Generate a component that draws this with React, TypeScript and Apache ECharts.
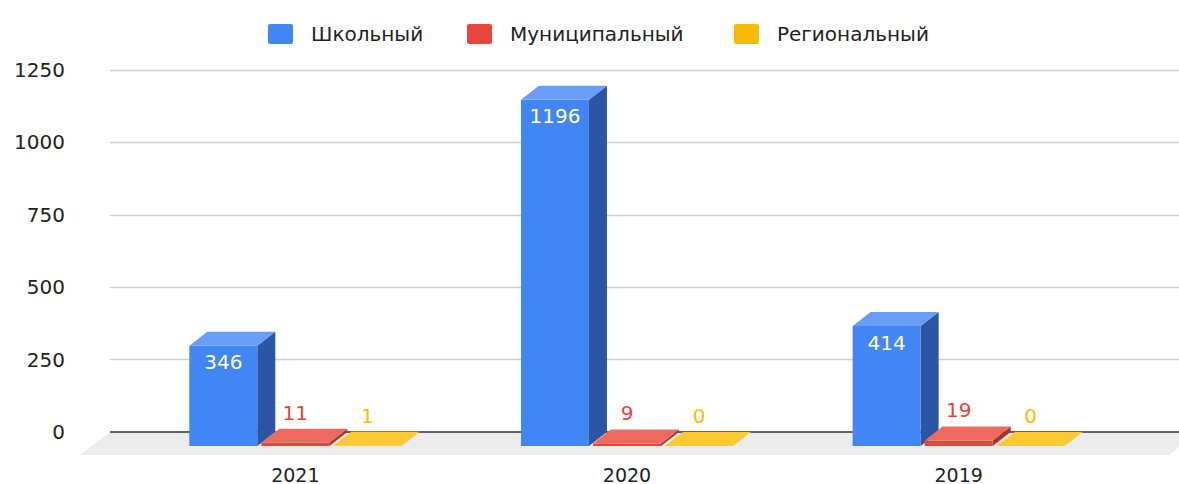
import React, { useEffect, useRef } from "react";
import * as echarts from "echarts";

const categories = ["2021", "2020", "2019"];
const seriesNames = ["Школьный", "Муниципальный", "Региональный"];
const school = [346, 1196, 414];
const municipal = [11, 9, 19];
const regional = [1, 0, 0];
const yMax = 1250;
const yStep = 250;

const palettes = [
  { front: "#4285F4", top: "#6A9EF6", side: "#2B56A3", label: "#FFFFFF" },
  { front: "#E8453C", top: "#EE6A5F", side: "#A8342A", label: "#EA4335" },
  { front: "#F7BB05", top: "#FBC933", side: "#C09000", label: "#FBBC04" },
];
const legendLefts = [263, 462, 729];

const FONT = "DejaVu Sans";
const LEGEND_ICON = "path://M2,0H23Q25,0 25,2V18Q25,20 23,20H2Q0,20 0,18V2Q0,0 2,0Z";

function makeBarRender(s: number) {
  return (params: any, api: any) => {
    const i = api.value(0);
    const v = api.value(1);
    const base = api.coord([i, 0]);
    const topP = api.coord([i, v]);
    const band = api.size([1, 0])[0];
    const w = band * 0.205;
    const pitch = band * 0.2172;
    const dx = 18;
    const dy = 14;
    const cx = base[0] + (s - 1) * pitch;
    const xl = cx - w / 2;
    const xr = cx + w / 2;
    const yb = base[1] + dy;
    const yt = topP[1] + dy;
    const p = palettes[s];
    const inside = yb - yt > 40;
    return {
      type: "group",
      children: [
        {
          type: "polygon",
          shape: { points: [[xr, yb], [xr + dx, yb - dy], [xr + dx, yt - dy], [xr, yt]] },
          style: { fill: p.side },
        },
        {
          type: "polygon",
          shape: { points: [[xl, yb], [xr, yb], [xr, yt], [xl, yt]] },
          style: { fill: p.front },
        },
        {
          type: "polygon",
          shape: { points: [[xl, yt], [xr, yt], [xr + dx, yt - dy], [xl + dx, yt - dy]] },
          style: { fill: p.top },
        },
        {
          type: "text",
          x: cx,
          y: inside ? yt + 16.5 : yt - dy - 16,
          style: {
            text: String(v),
            fill: p.label,
            fontSize: 20,
            fontFamily: FONT,
            align: "center",
            verticalAlign: "middle",
          },
        },
      ],
    };
  };
}

function floorRender(params: any, api: any) {
  const cs = params.coordSys;
  const x0 = cs.x;
  const y0 = cs.y + cs.height;
  const x1 = cs.x + cs.width + 20;
  const fdx = 30;
  const fdy = 23;
  return {
    type: "group",
    children: [
      {
        type: "polygon",
        shape: { points: [[x0, y0], [x1, y0], [x1 - fdx, y0 + fdy], [x0 - fdx, y0 + fdy]] },
        style: { fill: "#ECECEC" },
      },
      {
        type: "line",
        shape: { x1: x0, y1: y0, x2: x1, y2: y0 },
        style: { stroke: "#333333", lineWidth: 1.3 },
      },
    ],
  };
}

export default function App() {
  const ref = useRef<HTMLDivElement>(null);
  useEffect(() => {
    document.body.style.margin = "0";
    const chart = echarts.init(ref.current!, null, { renderer: "svg" });
    const values = [school, municipal, regional];
    chart.setOption({
      animation: false,
      backgroundColor: "#FFFFFF",
      legend: seriesNames.map((n, s) => ({
        left: legendLefts[s],
        top: 19,
        itemWidth: 25,
        itemHeight: 20,
        icon: LEGEND_ICON,
        selectedMode: false,
        textStyle: { fontSize: 20, fontFamily: FONT, color: "#222222", padding: [0, 0, 0, 13] },
        data: [{ name: n, itemStyle: { color: palettes[s].front } }],
      })),
      grid: [
        { left: 110, right: 0, top: 70, bottom: 52 },
        { left: 129.5, right: 54.5, top: 70, bottom: 52 },
      ],
      xAxis: [
        { type: "value", gridIndex: 0, min: 0, max: 1, show: false },
        {
          type: "category",
          gridIndex: 1,
          data: categories,
          axisLine: { show: false },
          axisTick: { show: false },
          axisLabel: { fontSize: 19, fontFamily: FONT, color: "#222222", margin: 33 },
        },
      ],
      yAxis: [
        {
          type: "value",
          gridIndex: 0,
          min: 0,
          max: yMax,
          interval: yStep,
          axisLine: { show: false },
          axisTick: { show: false },
          axisLabel: {
            fontSize: 20,
            fontFamily: FONT,
            color: "#222222",
            margin: 45,
            formatter: (v: number) => String(v),
          },
          splitLine: { lineStyle: { color: "#D0D0D0", width: 1.3 } },
        },
        { type: "value", gridIndex: 1, min: 0, max: yMax, interval: yStep, show: false, splitLine: { show: false } },
      ],
      series: [
        {
          type: "custom",
          name: "floor",
          xAxisIndex: 0,
          yAxisIndex: 0,
          z: 1,
          clip: false,
          silent: true,
          data: [[0, 0]],
          renderItem: floorRender,
        },
        ...seriesNames.map((n, s) => ({
          type: "custom",
          name: n,
          xAxisIndex: 1,
          yAxisIndex: 1,
          z: 2,
          clip: false,
          itemStyle: { color: palettes[s].front },
          encode: { x: 0, y: 1 },
          data: categories.map((c, i) => [i, values[s][i]]),
          renderItem: makeBarRender(s),
        })),
      ],
    });
    return () => chart.dispose();
  }, []);
  return <div ref={ref} style={{ width: 1179, height: 484 }} />;
}
